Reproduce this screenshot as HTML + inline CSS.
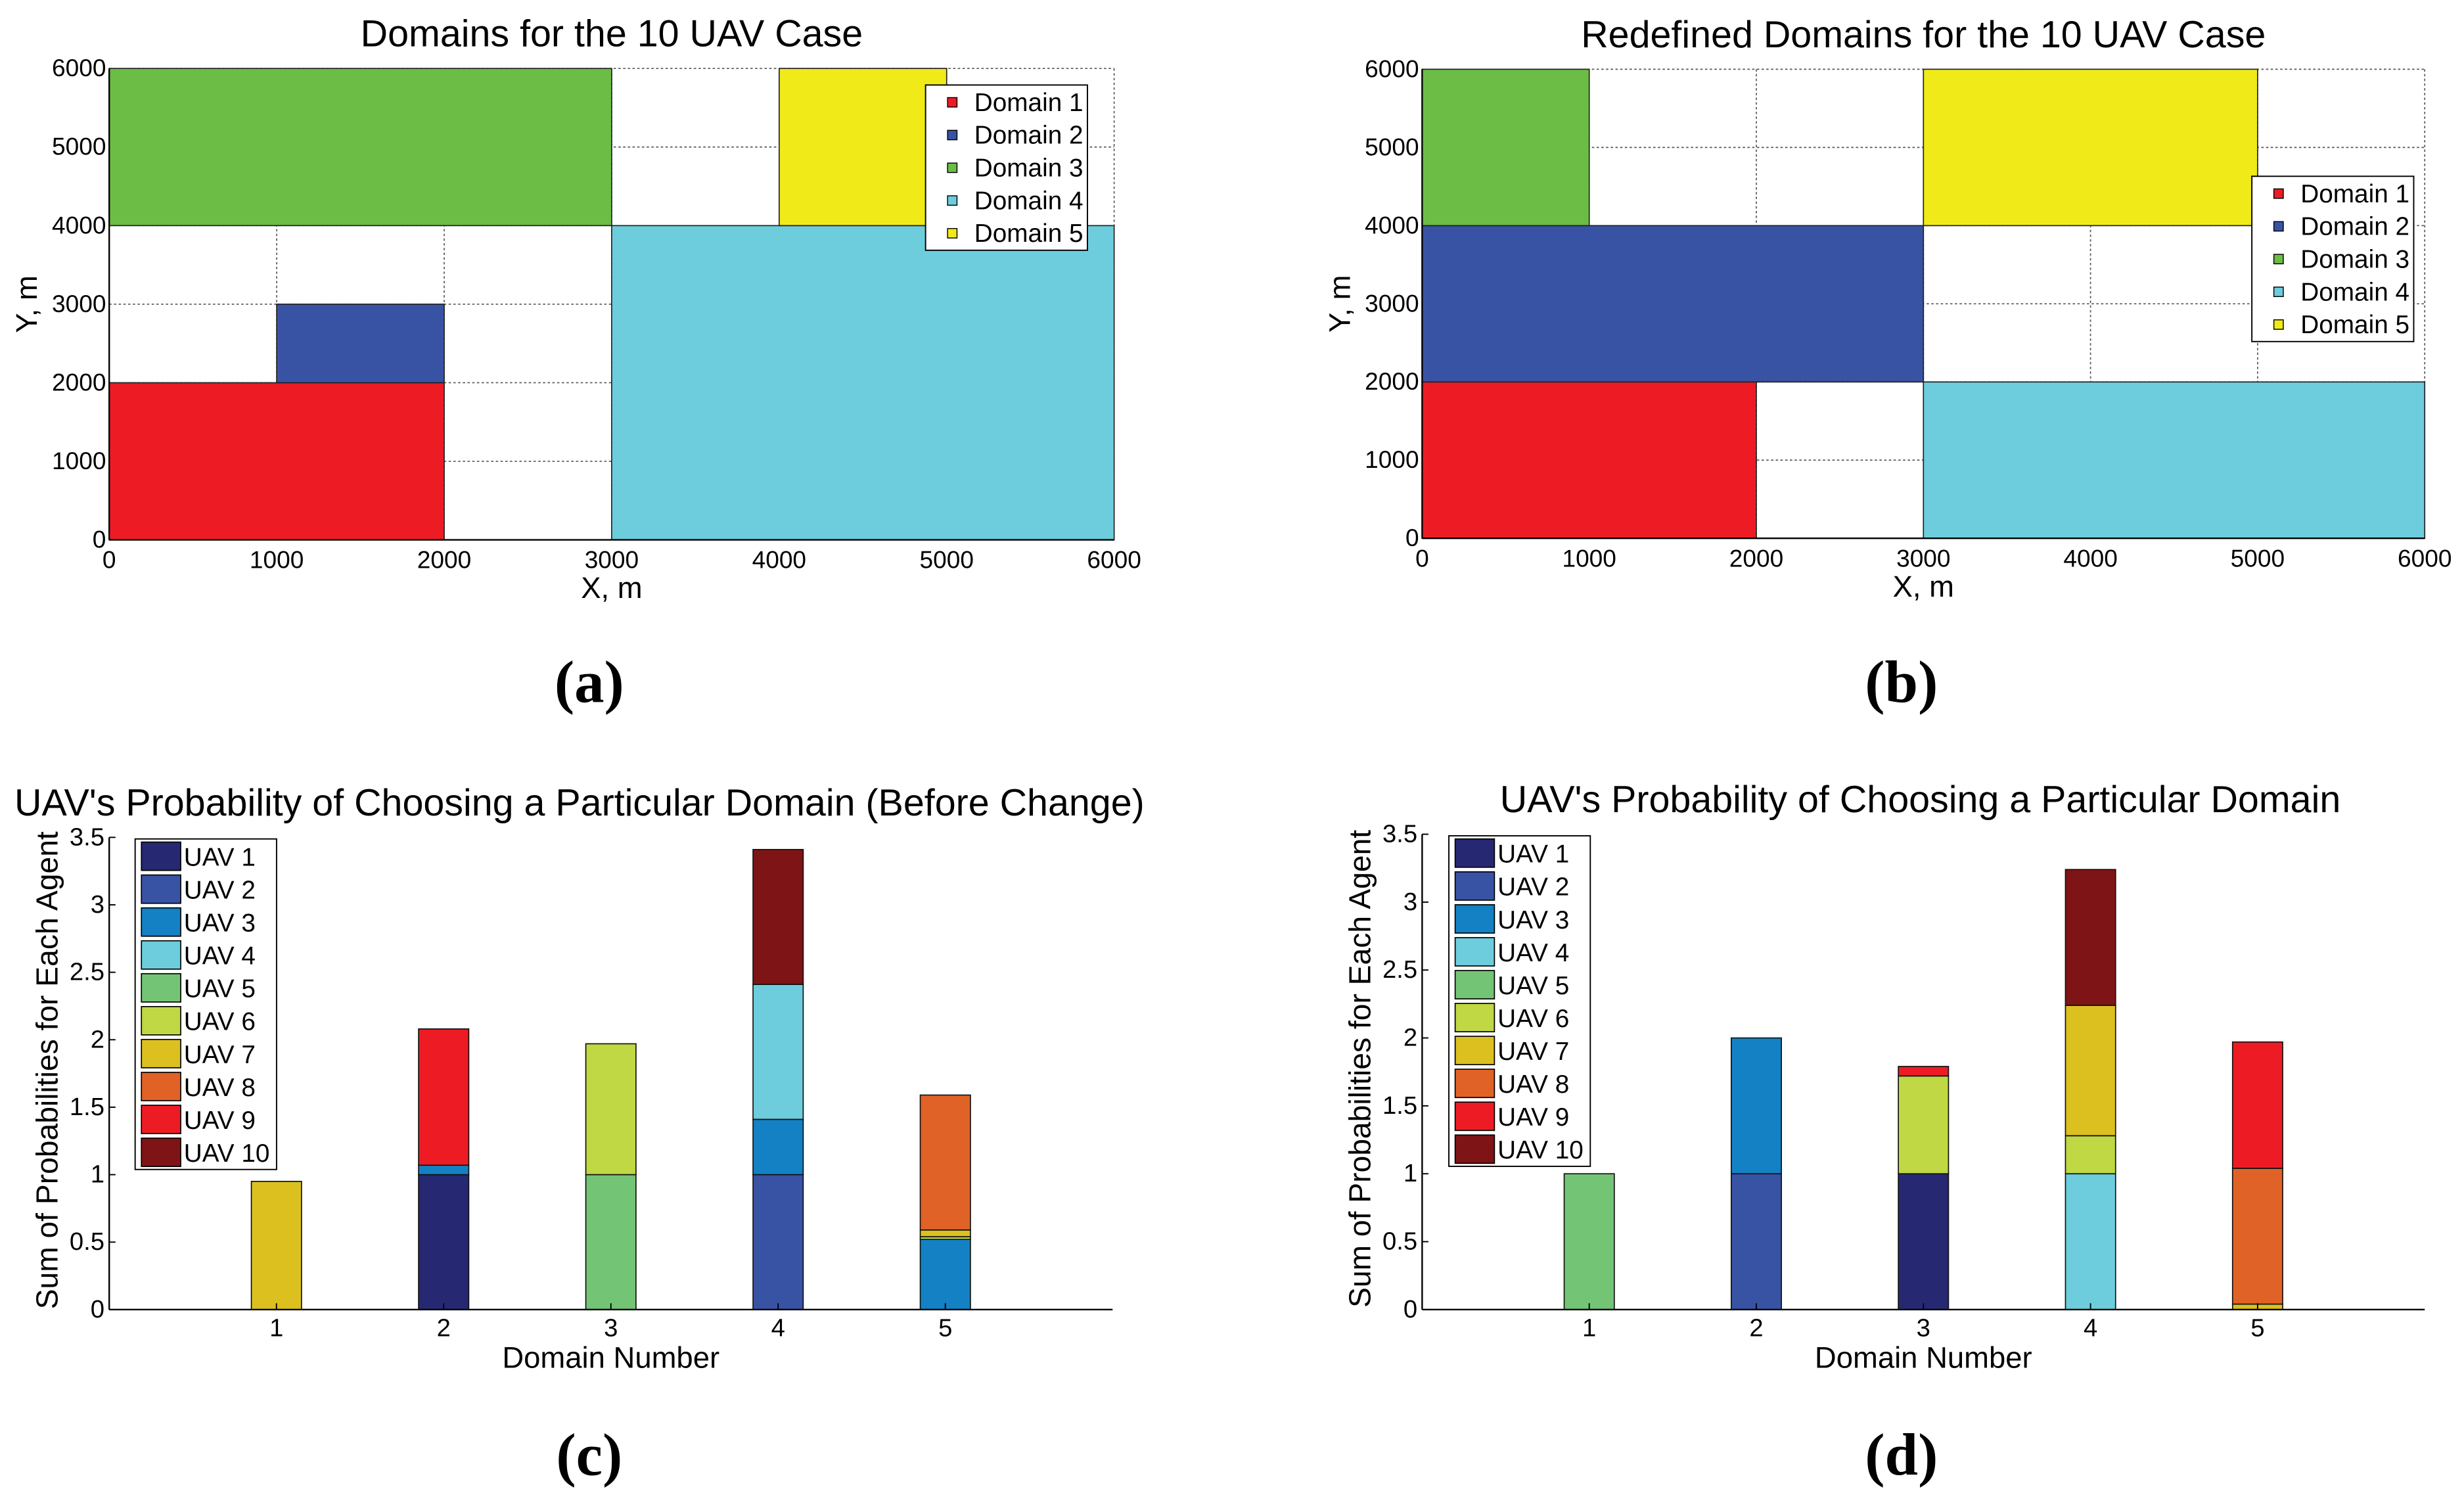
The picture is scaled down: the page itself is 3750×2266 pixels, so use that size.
<!DOCTYPE html>
<html><head><meta charset="utf-8"><style>
html,body{margin:0;padding:0;background:#fff;}
svg{display:block;font-family:"Liberation Sans",sans-serif;}
</style></head><body>
<svg id="fig" width="3750" height="2266" viewBox="0 0 1568 946" preserveAspectRatio="none" xmlns="http://www.w3.org/2000/svg">
<rect x="0" y="0" width="1568" height="946" fill="#fff"/>
</svg>
<script>
// ---- Panel (a)/(b) domain data (x0,x1,y0,y1 in metres) ----
const domainNames = ["Domain 1","Domain 2","Domain 3","Domain 4","Domain 5"];
const domainColors = ["#ed1c24","#3953a4","#6cbd45","#6dcddc","#f1ea19"];
const domainsA = [[0,2000,0,2000],[1000,2000,2000,3000],[0,3000,4000,6000],[3000,6000,0,4000],[4000,5000,4000,6000]];
const domainsB = [[0,2000,0,2000],[0,3000,2000,4000],[0,1000,4000,6000],[3000,6000,0,2000],[3000,5000,4000,6000]];
const mapTicks = [0,1000,2000,3000,4000,5000,6000];

// ---- Panel (c)/(d) stacked bar data ----
const uavNames = ["UAV 1","UAV 2","UAV 3","UAV 4","UAV 5","UAV 6","UAV 7","UAV 8","UAV 9","UAV 10"];
const uavColors = ["#262872","#3953a4","#1481c4","#6dcddc","#74c476","#bfd843","#dcc020","#e06227","#ed1c24","#7f1416"];
const barCategories = [1,2,3,4,5];
// rows = domains, columns = UAV 1..10
const probC = [
 [0,0,0,0,0,0,0.95,0,0,0],
 [1.0,0,0.07,0,0,0,0,0,1.01,0],
 [0,0,0,0,1.0,0.97,0,0,0,0],
 [0,1.0,0.41,1.0,0,0,0,0,0,1.0],
 [0,0,0.52,0,0,0.02,0.05,1.0,0,0]
];
const probD = [
 [0,0,0,0,1.0,0,0,0,0,0],
 [0,1.0,1.0,0,0,0,0,0,0,0],
 [1.0,0,0,0,0,0.72,0,0,0.07,0],
 [0,0,0,1.0,0,0.28,0.96,0,0,1.0],
 [0,0,0,0,0,0,0.04,1.0,0.93,0]
];
const probTicks = [0,0.5,1,1.5,2,2.5,3,3.5];
const probTickLabels = ["0","0.5","1","1.5","2","2.5","3","3.5"];

const NS="http://www.w3.org/2000/svg";
const svg=document.getElementById('fig');
function mk(tag,attrs,parent){const e=document.createElementNS(NS,tag);for(const k in attrs)e.setAttribute(k,attrs[k]);(parent||svg).appendChild(e);return e;}
function txt(s,attrs,parent){const e=mk('text',attrs,parent);e.textContent=s;return e;}

function mapPanel(id,title,domains,box,legend){
  const g=mk('g',{});
  
  
  const sx=v=>box.x0+(v/6000)*(box.x1-box.x0);
  const sy=v=>box.y1-(v/6000)*(box.y1-box.y0);
  mapTicks.forEach(t=>{
    const gl=mk('line',{x1:sx(t),x2:sx(t),y1:box.y0,y2:box.y1,stroke:'#555','stroke-width':0.7,'stroke-dasharray':'1.5,1.5'},g);
    
    
    const gh=mk('line',{x1:box.x0,x2:box.x1,y1:sy(t),y2:sy(t),stroke:'#555','stroke-width':0.7,'stroke-dasharray':'1.5,1.5'},g);
    
    
  });
  domains.forEach((d,i)=>{
    const r=mk('rect',{x:sx(d[0]),y:sy(d[3]),width:sx(d[1])-sx(d[0]),height:sy(d[2])-sy(d[3]),fill:domainColors[i],stroke:'#222','stroke-width':0.7},g);
    
    
  });
  mk('line',{x1:box.x0,x2:box.x0,y1:box.y0,y2:box.y1,stroke:'#000','stroke-width':1},g);
  mk('line',{x1:box.x0,x2:box.x1,y1:box.y1,y2:box.y1,stroke:'#000','stroke-width':1},g);
  mapTicks.forEach(t=>{
    const a=txt(String(t),{x:sx(t),y:box.y1+18,'font-size':15.5,'text-anchor':'middle'},g);
    
    
    const b=txt(String(t),{x:box.x0-2,y:sy(t)+5,'font-size':15.5,'text-anchor':'end'},g);
    
    
  });
  const tt=txt(title,{x:(box.x0+box.x1)/2,y:box.y0-14,'font-size':24,'text-anchor':'middle'},g);
  
  
  const xl=txt('X, m',{x:(box.x0+box.x1)/2,y:box.y1+37,'font-size':19,'text-anchor':'middle'},g);
  
  
  const cy=(box.y0+box.y1)/2;
  const yl=txt('Y, m',{x:box.x0-46,y:cy,'font-size':19,'text-anchor':'middle',transform:'rotate(-90 '+(box.x0-46)+' '+cy+')'},g);
  
  
  const lg=mk('g',{},g);
  
  
  mk('rect',{x:legend.x,y:legend.y,width:103,height:105,fill:'#fff',stroke:'#000','stroke-width':0.8},lg);
  domainNames.forEach((n,i)=>{
    const yy=legend.y+11+i*20.8;
    const e=mk('g',{},lg);
    
    
    mk('rect',{x:legend.x+14,y:yy-3,width:6,height:6,fill:domainColors[i],stroke:'#000','stroke-width':0.6},e);
    txt(n,{x:legend.x+31,y:yy+5.5,'font-size':16.2},e);
  });
}
mapPanel('domain-map-a','Domains for the 10 UAV Case',domainsA,{x0:69.5,x1:709,y0:43.5,y1:343},{x:589,y:54});
mapPanel('domain-map-b','Redefined Domains for the 10 UAV Case',domainsB,{x0:905,x1:1543,y0:44,y1:342},{x:1433,y:112});

function barPanel(id,title,data,box,legendPos,titleShift){
  const g=mk('g',{});
  
  
  const sx=v=>box.x0+(v/6)*(box.x1-box.x0);
  const sy=v=>box.y1-(v/3.5)*(box.y1-box.y0);
  const bw=0.3;
  barCategories.forEach((c,ci)=>{
    let acc=0;
    data[ci].forEach((v,ui)=>{
      if(v<=0)return;
      const r=mk('rect',{x:sx(c-bw/2),y:sy(acc+v),width:sx(c+bw/2)-sx(c-bw/2),height:sy(acc)-sy(acc+v),fill:uavColors[ui],stroke:'#111','stroke-width':0.7},g);
      
      
      acc+=v;
    });
  });
  mk('line',{x1:box.x0,x2:box.x0,y1:box.y0,y2:box.y1,stroke:'#000','stroke-width':1},g);
  mk('line',{x1:box.x0,x2:box.x1,y1:box.y1,y2:box.y1,stroke:'#000','stroke-width':1},g);
  probTicks.forEach((t,i)=>{
    mk('line',{x1:box.x0,x2:box.x0+4,y1:sy(t),y2:sy(t),stroke:'#000','stroke-width':0.8},g);
    const a=txt(probTickLabels[i],{x:box.x0-3,y:sy(t)+5,'font-size':16,'text-anchor':'end'},g);
    
    
  });
  barCategories.forEach(c=>{
    mk('line',{x1:sx(c),x2:sx(c),y1:box.y1,y2:box.y1-4,stroke:'#000','stroke-width':0.8},g);
    const a=txt(String(c),{x:sx(c),y:box.y1+17,'font-size':16,'text-anchor':'middle'},g);
    
    
  });
  const tt=txt(title,{x:(box.x0+box.x1)/2+titleShift,y:box.y0-14,'font-size':24,'text-anchor':'middle'},g);
  
  
  const xl=txt('Domain Number',{x:(box.x0+box.x1)/2,y:box.y1+37,'font-size':19,'text-anchor':'middle'},g);
  
  
  const cy=(box.y0+box.y1)/2-2;
  const lx=box.x0-33;
  const yl=txt('Sum of Probabilities for Each Agent',{x:lx,y:cy,'font-size':19.3,'text-anchor':'middle',transform:'rotate(-90 '+lx+' '+cy+')'},g);
  
  
  const lg=mk('g',{},g);
  
  
  mk('rect',{x:legendPos.x,y:legendPos.y,width:90,height:210,fill:'#fff',stroke:'#000','stroke-width':0.8},lg);
  uavNames.forEach((n,i)=>{
    const yy=legendPos.y+11+i*20.9;
    const e=mk('g',{},lg);
    
    
    mk('rect',{x:legendPos.x+4,y:yy-9,width:25,height:18,fill:uavColors[i],stroke:'#000','stroke-width':0.7},e);
    txt(n,{x:legendPos.x+31,y:yy+6,'font-size':16.2},e);
  });
}
barPanel('prob-chart-c',"UAV's Probability of Choosing a Particular Domain (Before Change)",probC,{x0:69.5,x1:708,y0:532,y1:832},{x:86,y:533},-20);
barPanel('prob-chart-d',"UAV's Probability of Choosing a Particular Domain",probD,{x0:905,x1:1543,y0:530,y1:832},{x:922,y:531},-2);

[['(a)',375,446],['(b)',1210,446],['(c)',375,937],['(d)',1210,937]].forEach(p=>{
  const t=txt(p[0],{x:p[1],y:p[2],'font-size':38,'font-weight':'bold','text-anchor':'middle','font-family':'Liberation Serif, serif'});
  
  
});
</script>
</body></html>
